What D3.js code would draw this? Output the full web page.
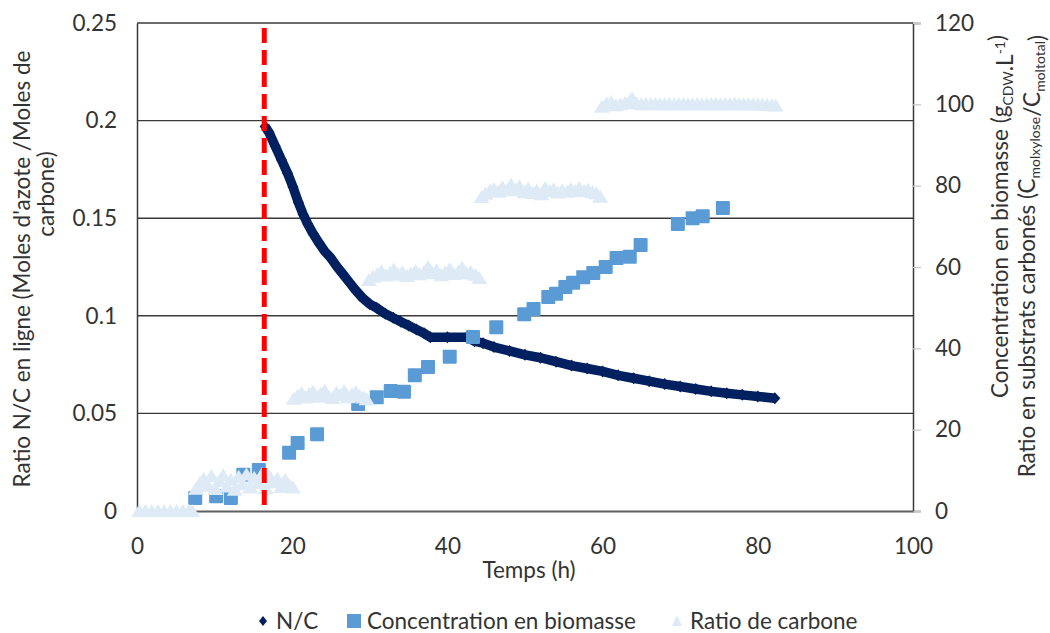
<!DOCTYPE html>
<html lang="fr">
<head>
<meta charset="UTF-8">
<title>Ratio N/C, biomasse et ratio de carbone</title>
<script src="https://d3js.org/d3.v7.min.js"></script>
<style>
  body { margin: 0; background: #fff; }
  svg text { font-family: Lato, "Open Sans", sans-serif; fill: #333; }
</style>
</head>
<body>
<div id="chart"></div>
<script>
// ---- data ----
const xTicks = [0, 20, 40, 60, 80, 100];
const leftTicks = [0, 0.05, 0.1, 0.15, 0.2, 0.25];
const rightTicks = [0, 20, 40, 60, 80, 100, 120];

// N/C ratio on line [time h, mol N / mol C]
const ncRatio = [
  [16.5, 0.197], [17.0, 0.194], [17.8, 0.187], [18.6, 0.180], [19.4, 0.173],
  [20.1, 0.166], [20.8, 0.158], [21.4, 0.152], [22.0, 0.147], [22.7, 0.142],
  [23.5, 0.137], [24.2, 0.133], [24.9, 0.130], [25.8, 0.125], [26.6, 0.121],
  [27.4, 0.117], [28.2, 0.113], [29.1, 0.109], [30.0, 0.106], [30.9, 0.104],
  [32.0, 0.101], [33.0, 0.099], [34.0, 0.097], [35.0, 0.095], [36.0, 0.093],
  [37.0, 0.091], [37.8, 0.089], [40.0, 0.089], [42.5, 0.089], [43.5, 0.087],
  [44.6, 0.086], [46.0, 0.084], [48.0, 0.082], [50.0, 0.080], [52.0, 0.0785],
  [54.0, 0.0765], [56.0, 0.0745], [58.0, 0.0730], [60.0, 0.0715], [62.0, 0.0695],
  [64.0, 0.0680], [66.0, 0.0665], [68.0, 0.0650], [70.0, 0.0638], [72.0, 0.0625],
  [74.0, 0.0613], [76.0, 0.0603], [78.0, 0.0595], [80.0, 0.0587], [82.2, 0.0578]
];

// biomass concentration [time h, g CDW / L]
const biomass = [
  [7.5, 3.2], [10.2, 3.6], [12.1, 3.2], [13.7, 8.9], [15.7, 10.1], [19.6, 14.3],
  [20.7, 16.7], [23.2, 18.9], [28.5, 26.3], [30.9, 28.0], [32.7, 29.5], [34.4, 29.3],
  [35.8, 33.4], [37.5, 35.4], [40.3, 37.9], [43.3, 42.8], [46.3, 45.2], [49.9, 48.4],
  [51.1, 49.7], [53.0, 52.6], [54.0, 53.4], [55.2, 55.1], [56.2, 56.1], [57.5, 57.5],
  [58.8, 58.5], [60.4, 60.0], [61.8, 62.2], [63.5, 62.5], [64.9, 65.4], [69.7, 70.6],
  [71.6, 72.0], [72.9, 72.5], [75.5, 74.5]
];

// carbon substrate ratio [time h, %]
const carbonRatio = [
  [0.3, 0], [1.1, 0], [1.9, 0], [2.7, 0], [3.5, 0], [4.3, 0], [5.1, 0], [5.9, 0], [6.7, 0], [7.1, 0],
  [7.6, 5.5], [8.1, 6.8], [8.6, 7.9], [9.1, 6.2], [9.6, 8.6], [10.1, 5.4], [10.6, 7.4], [11.1, 8.8],
  [11.6, 6.0], [12.1, 7.7], [12.6, 5.2], [13.1, 8.4], [13.6, 6.6], [14.1, 9.0], [14.6, 5.8], [15.1, 8.2],
  [15.6, 6.9], [16.1, 9.1], [16.6, 5.6], [17.1, 8.5], [17.6, 7.1], [18.1, 8.0], [18.6, 5.9], [19.1, 7.6],
  [19.6, 6.4], [20.1, 5.8],
  [20.2, 27.6], [20.7, 28.4], [21.2, 29.0], [21.7, 27.9], [22.2, 28.8], [22.7, 29.4], [23.2, 28.1],
  [23.7, 28.9], [24.2, 29.6], [24.7, 28.2], [25.2, 27.8], [25.7, 29.1], [26.2, 28.5], [26.7, 29.5],
  [27.2, 28.0], [27.7, 28.7], [28.2, 29.2], [28.7, 28.3], [29.2, 27.9], [29.6, 27.5],
  [29.9, 56.8], [30.4, 57.6], [31.0, 58.3], [31.5, 58.9], [32.0, 57.9], [32.6, 58.6], [33.1, 59.3],
  [33.7, 58.1], [34.2, 58.7], [34.8, 57.8], [35.3, 58.4], [35.9, 59.0], [36.4, 58.2], [37.0, 58.8],
  [37.5, 60.0], [38.1, 58.5], [38.6, 59.2], [39.2, 58.0], [39.7, 58.7], [40.3, 59.5], [40.8, 58.3],
  [41.4, 58.9], [41.9, 59.8], [42.5, 58.4], [43.0, 58.8], [43.6, 58.1], [44.1, 57.3],
  [44.4, 77.2], [44.9, 78.0], [45.5, 78.8], [46.0, 79.2], [46.6, 78.5], [47.1, 79.6], [47.7, 78.9],
  [48.2, 80.2], [48.8, 79.0], [49.3, 79.8], [49.9, 78.4], [50.4, 79.3], [51.0, 78.2], [51.5, 78.8],
  [52.1, 77.9], [52.6, 79.5], [53.2, 78.6], [53.7, 79.1], [54.3, 78.3], [54.8, 78.9], [55.4, 78.5],
  [55.9, 79.2], [56.5, 78.7], [57.0, 79.4], [57.6, 78.6], [58.1, 79.0], [58.7, 78.4], [59.2, 78.1],
  [59.7, 77.3],
  [59.9, 99.4], [60.5, 100.2], [61.1, 100.6], [61.7, 99.8], [62.3, 100.0], [62.9, 100.3], [63.5, 100.9],
  [63.8, 101.5], [64.4, 100.2], [65.0, 100.0], [65.6, 100.1], [66.2, 100.0], [66.8, 100.1], [67.4, 100.0],
  [68.0, 100.0], [68.6, 100.1], [69.2, 100.0], [69.8, 100.0], [70.4, 100.1], [71.0, 100.0], [71.6, 100.0],
  [72.2, 100.1], [72.8, 100.0], [73.4, 100.0], [74.0, 100.0], [74.6, 100.1], [75.2, 100.0], [75.8, 100.0],
  [76.4, 100.0], [77.0, 100.1], [77.6, 100.0], [78.2, 100.0], [78.8, 100.0], [79.4, 100.0], [80.0, 100.0],
  [80.6, 99.9], [81.2, 99.9], [81.8, 99.8], [82.3, 99.7]
];

// start of the feed phase (red dashed line), h
const feedStart = 16.4;

// ---- layout ----
const W = 1050, H = 633;
const plot = { left: 137, right: 913, top: 23, bottom: 511 };
const fs = '22.5px';

const svg = d3.select('#chart').append('svg')
  .attr('width', W).attr('height', H);

const x = d3.scaleLinear().domain([0, 100]).range([plot.left, plot.right]);
const yL = d3.scaleLinear().domain([0, 0.25]).range([plot.bottom, plot.top]);
const yR = d3.scaleLinear().domain([0, 120]).range([plot.bottom, plot.top]);

// gridlines (from the left axis)
svg.append('g')
  .selectAll('line').data(leftTicks.filter(d => d > 0)).enter().append('line')
  .attr('x1', plot.left).attr('x2', plot.right)
  .attr('y1', d => yL(d)).attr('y2', d => yL(d))
  .attr('stroke', '#3a3a3a').attr('stroke-width', 1.4);

// left axis
const gL = svg.append('g').attr('transform', `translate(${plot.left},0)`)
  .call(d3.axisLeft(yL).tickValues(leftTicks).tickSize(0).tickPadding(20)
    .tickFormat(d => d === 0 ? '0' : String(+d.toFixed(2))));
gL.select('.domain').attr('stroke', '#3a3a3a').attr('stroke-width', 1.5);
gL.selectAll('text').style('font-size', fs).attr('fill', '#333');

// right axis
const gR = svg.append('g').attr('transform', `translate(${plot.right},0)`)
  .call(d3.axisRight(yR).tickValues(rightTicks).tickSize(8).tickPadding(14));
gR.select('.domain').attr('stroke', '#3a3a3a').attr('stroke-width', 1.5);
gR.selectAll('.tick line').attr('stroke', '#c8c8c8').attr('stroke-width', 1.3);
gR.selectAll('text').style('font-size', fs).attr('fill', '#333');

// bottom axis
const gB = svg.append('g').attr('transform', `translate(0,${plot.bottom})`)
  .call(d3.axisBottom(x).tickValues(xTicks).tickSize(0).tickPadding(27));
gB.select('.domain').attr('stroke', '#606060').attr('stroke-width', 2);
gB.selectAll('text').style('font-size', fs).attr('fill', '#333');

// N/C series: dense diamonds drawn as a thick trace
const navy = '#002060';
svg.append('path').datum(ncRatio)
  .attr('d', d3.line().x(d => x(d[0])).y(d => yL(d[1])))
  .attr('fill', 'none').attr('stroke', navy).attr('stroke-width', 9.5)
  .attr('stroke-linejoin', 'round');
svg.append('g').selectAll('path').data(ncRatio).enter().append('path')
  .attr('transform', d => `translate(${x(d[0])},${yL(d[1])})`)
  .attr('d', 'M0,-6L5.5,0L0,6L-5.5,0Z').attr('fill', navy);

// biomass squares
const sq = 14;
svg.append('g').selectAll('rect').data(biomass).enter().append('rect')
  .attr('x', d => x(d[0]) - sq / 2).attr('y', d => yR(d[1]) - sq / 2)
  .attr('width', sq).attr('height', sq).attr('rx', 1)
  .attr('fill', '#5b9bd5');

// carbon ratio triangles
svg.append('g').selectAll('path').data(carbonRatio).enter().append('path')
  .attr('transform', d => `translate(${x(d[0])},${yR(d[1])})`)
  .attr('d', 'M0,-7L8,6L-8,6Z').attr('fill', '#deebf7');

// feed start marker
svg.append('line')
  .attr('x1', x(feedStart)).attr('x2', x(feedStart))
  .attr('y1', 28).attr('y2', plot.bottom)
  .attr('stroke', '#ff0000').attr('stroke-width', 5)
  .attr('stroke-dasharray', '15,7');

// axis titles
svg.append('text')
  .attr('x', (plot.left + plot.right) / 2 + 4).attr('y', 578)
  .attr('text-anchor', 'middle').style('font-size', fs)
  .text('Temps (h)');

svg.append('text')
  .attr('transform', 'translate(30,269) rotate(-90)')
  .attr('text-anchor', 'middle').style('font-size', fs)
  .text("Ratio N/C en ligne (Moles d'azote /Moles de");
svg.append('text')
  .attr('transform', 'translate(54,194) rotate(-90)')
  .attr('text-anchor', 'middle').style('font-size', fs)
  .text('carbone)');

// subscript / superscript helper using dy so rotation stays consistent
function addRun(t, txt, kind) {
  if (kind === 'sub') {
    t.append('tspan').attr('dy', 5).style('font-size', '14px').text(txt);
    t.append('tspan').attr('dy', -5).text('');
  } else if (kind === 'sup') {
    t.append('tspan').attr('dy', -8).style('font-size', '14px').text(txt);
    t.append('tspan').attr('dy', 8).text('');
  } else {
    t.append('tspan').text(txt);
  }
}

const t1 = svg.append('text')
  .attr('transform', 'translate(1008,35) rotate(-90)')
  .attr('text-anchor', 'end').style('font-size', fs);
addRun(t1, 'Concentration en biomasse (g');
addRun(t1, 'CDW', 'sub');
addRun(t1, '.L');
addRun(t1, '-1', 'sup');
addRun(t1, ')');

const t2 = svg.append('text')
  .attr('transform', 'translate(1035,35) rotate(-90)')
  .attr('text-anchor', 'end').style('font-size', fs);
addRun(t2, 'Ratio en substrats carbonés (C');
addRun(t2, 'molxylose', 'sub');
addRun(t2, '/C');
addRun(t2, 'moltotal', 'sub');
addRun(t2, ')');

// legend
const legend = [
  { name: 'N/C', x: 263, shape: 'diamond' },
  { name: 'Concentration en biomasse', x: 354, shape: 'square' },
  { name: 'Ratio de carbone', x: 677, shape: 'triangle' }
];
const lg = svg.append('g').attr('transform', 'translate(0,621)');
legend.forEach(l => {
  if (l.shape === 'diamond') {
    lg.append('path').attr('transform', `translate(${l.x},0)`)
      .attr('d', 'M0,-5L4,0L0,5L-4,0Z').attr('fill', navy);
  } else if (l.shape === 'square') {
    lg.append('rect').attr('x', l.x - 7).attr('y', -7).attr('width', 14).attr('height', 14)
      .attr('fill', '#5b9bd5');
  } else {
    lg.append('path').attr('transform', `translate(${l.x},0)`)
      .attr('d', 'M0,-6L5,5L-5,5Z').attr('fill', '#deebf7');
  }
  lg.append('text').attr('x', l.x + 13).attr('y', 8)
    .style('font-size', fs).text(l.name);
});
</script>
</body>
</html>
